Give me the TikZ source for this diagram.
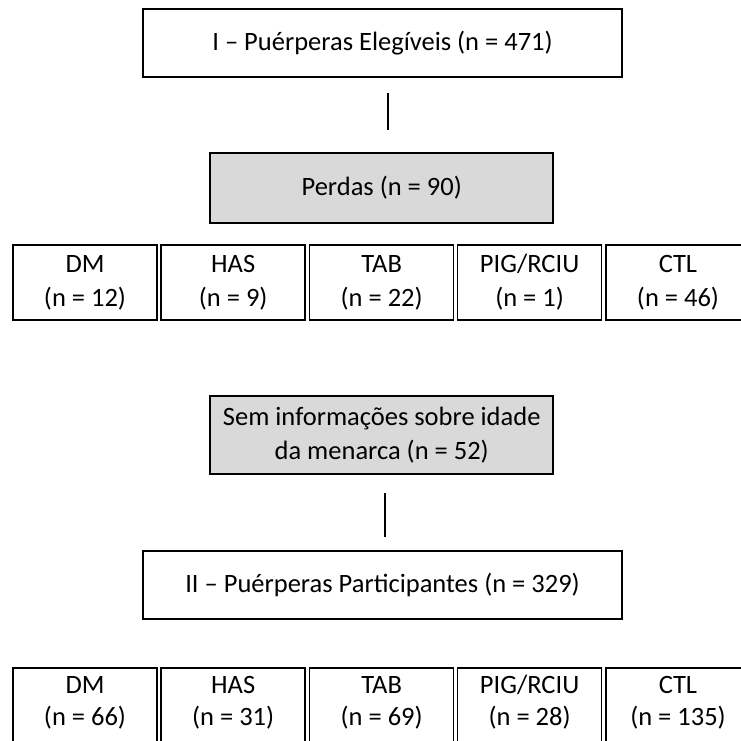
\documentclass[tikz,border=0pt]{standalone}
\usepackage{fontspec}
\setmainfont{Carlito}
\definecolor{boxgray}{HTML}{D9D9D9}
\begin{document}
\begin{tikzpicture}[x=1pt,y=-1pt,
  every node/.style={font=\fontsize{26.5}{34}\selectfont, inner sep=0pt, outer sep=0pt, align=center},
  bigbox/.style={draw=black, line width=1.8pt, rectangle, minimum width=479pt, minimum height=68pt},
  graybox/.style={draw=black, line width=1.5pt, fill=boxgray, rectangle, minimum width=343pt},
  cell/.style={draw=black, line width=1.5pt, rectangle, minimum width=144pt, minimum height=75pt},
  celltext/.style={font=\fontsize{26.5}{32}\selectfont},
  conn/.style={line width=1.3pt}]
\useasboundingbox (0,0) rectangle (741,740);
% top part
\node[bigbox] (eleg) at (382.5,43) {I -- Puérperas Elegíveis (n = 471)};
\coordinate (l1a) at (388,93);
\coordinate (l1b) at (388,130);
\draw[conn] (l1a) -- (l1b);
\node[graybox, minimum height=70pt] (perdas) at (381.7,188) {Perdas (n = 90)};
\node[cell] (p1) at (85,282.5) {\strut DM\\\strut (n = 12)};
\node[cell] (p2) at (233.2,282.5) {\strut HAS\\\strut (n = 9)};
\node[cell] (p3) at (381.7,282.5) {\strut TAB\\\strut (n = 22)};
\node[cell] (p4) at (529.6,282.5) {\strut PIG/RCIU\\\strut (n = 1)};
\node[cell] (p5) at (678,282.5) {\strut CTL\\\strut (n = 46)};
% lower part
\node[graybox, minimum height=78pt] (sem) at (381.7,435) {Sem informações sobre idade\\da menarca (n = 52)};
\coordinate (l2a) at (385,493);
\coordinate (l2b) at (385,537);
\draw[conn] (l2a) -- (l2b);
\node[bigbox] (part) at (382.5,585) {II -- Puérperas Participantes (n = 329)};
\node[cell] (q1) at (85,705.5) {};
\node[cell] (q2) at (233.2,705.5) {};
\node[cell] (q3) at (381.7,705.5) {};
\node[cell] (q4) at (529.6,705.5) {};
\node[cell] (q5) at (678,705.5) {};
\node[celltext] (q1t) at (85,703) {\strut DM\\\strut (n = 66)};
\node[celltext] (q2t) at (233.2,703) {\strut HAS\\\strut (n = 31)};
\node[celltext] (q3t) at (381.7,703) {\strut TAB\\\strut (n = 69)};
\node[celltext] (q4t) at (529.6,703) {\strut PIG/RCIU\\\strut (n = 28)};
\node[celltext] (q5t) at (678,703) {\strut CTL\\\strut (n = 135)};
\end{tikzpicture}
\end{document}
